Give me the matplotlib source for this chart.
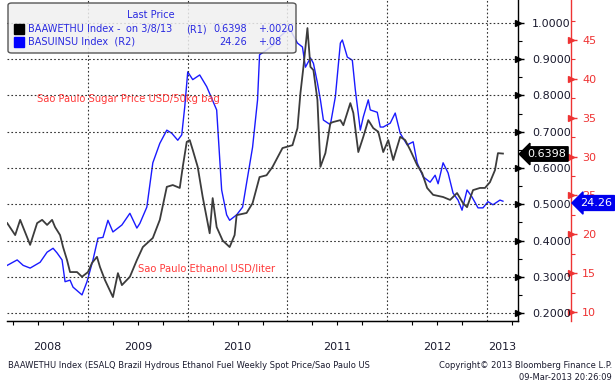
import matplotlib
matplotlib.use("Agg")
import matplotlib.pyplot as plt
import matplotlib.transforms as mtransforms
from matplotlib.patches import FancyBboxPatch, Rectangle

# ---- Data (time in decimal years) ----
eth_t = [2008.19, 2008.27, 2008.32, 2008.42, 2008.49, 2008.54, 2008.59, 2008.64,
         2008.67, 2008.72, 2008.75, 2008.79, 2008.82, 2008.89, 2008.94, 2009.00,
         2009.04, 2009.09, 2009.12, 2009.17, 2009.25, 2009.30, 2009.34, 2009.42,
         2009.49, 2009.55, 2009.65, 2009.72, 2009.79, 2009.85, 2009.92, 2009.95,
         2009.99, 2010.02, 2010.05, 2010.10, 2010.15, 2010.22, 2010.25, 2010.29,
         2010.35, 2010.42, 2010.47, 2010.49, 2010.59, 2010.65, 2010.72, 2010.79,
         2010.85, 2010.95, 2011.05, 2011.10, 2011.13, 2011.16, 2011.20, 2011.23,
         2011.26, 2011.30, 2011.33, 2011.38, 2011.43, 2011.46, 2011.53, 2011.56,
         2011.63, 2011.66, 2011.71, 2011.76, 2011.81, 2011.86, 2011.91, 2011.96,
         2012.01, 2012.06, 2012.13, 2012.18, 2012.23, 2012.30, 2012.35, 2012.40,
         2012.46, 2012.56, 2012.63, 2012.70, 2012.76, 2012.80, 2012.86, 2012.93,
         2012.98, 2013.03, 2013.08, 2013.11, 2013.16]
eth_v = [0.448, 0.415, 0.457, 0.388, 0.448, 0.457, 0.443, 0.457,
         0.437, 0.415, 0.382, 0.346, 0.313, 0.313, 0.300, 0.313,
         0.338, 0.355, 0.327, 0.291, 0.244, 0.310, 0.277, 0.300,
         0.346, 0.382, 0.407, 0.457, 0.548, 0.553, 0.545, 0.603,
         0.672, 0.677, 0.650, 0.603, 0.520, 0.420, 0.517, 0.437,
         0.400, 0.382, 0.415, 0.470, 0.476, 0.503, 0.575, 0.580,
         0.603, 0.655, 0.663, 0.710, 0.807, 0.879, 0.986, 0.879,
         0.870, 0.788, 0.603, 0.641, 0.724, 0.727, 0.732, 0.718,
         0.779, 0.752, 0.644, 0.686, 0.732, 0.710, 0.700, 0.644,
         0.677, 0.622, 0.686, 0.677, 0.650, 0.608, 0.586, 0.545,
         0.526, 0.520, 0.512, 0.531, 0.503, 0.492, 0.539, 0.545,
         0.545, 0.561, 0.594, 0.641, 0.6398]

sug_t = [2008.19, 2008.29, 2008.35, 2008.42, 2008.52, 2008.59, 2008.65, 2008.69,
         2008.74, 2008.77, 2008.82, 2008.85, 2008.94, 2008.99, 2009.05, 2009.10,
         2009.15, 2009.20, 2009.25, 2009.34, 2009.42, 2009.49, 2009.52, 2009.59,
         2009.65, 2009.72, 2009.79, 2009.84, 2009.90, 2009.94, 2009.97, 2010.00,
         2010.05, 2010.12, 2010.19, 2010.29, 2010.34, 2010.39, 2010.42, 2010.49,
         2010.55, 2010.59, 2010.65, 2010.70, 2010.72, 2010.79, 2010.89, 2010.92,
         2011.02, 2011.10, 2011.15, 2011.18, 2011.23, 2011.26, 2011.30, 2011.33,
         2011.36, 2011.43, 2011.48, 2011.53, 2011.55, 2011.60, 2011.65, 2011.68,
         2011.73, 2011.76, 2011.81, 2011.83, 2011.90, 2011.93, 2011.96, 2012.03,
         2012.08, 2012.13, 2012.20, 2012.26, 2012.30, 2012.36, 2012.43, 2012.48,
         2012.51, 2012.56, 2012.61, 2012.66, 2012.71, 2012.75, 2012.80, 2012.85,
         2012.91, 2012.96, 2013.01, 2013.06, 2013.13, 2013.16]
sug_v = [16.0, 16.7, 16.0, 15.65, 16.4, 17.7, 18.2, 17.6,
         16.7, 13.9, 14.1, 13.2, 12.2, 13.9, 16.7, 19.5,
         19.6, 21.8, 20.3, 21.2, 22.7, 20.8, 21.4, 23.5,
         29.2, 31.7, 33.4, 33.0, 32.1, 32.8, 36.4, 40.9,
         39.9, 40.5, 39.0, 36.0, 25.7, 22.5, 21.8, 22.5,
         23.5, 26.6, 31.2, 37.3, 43.1, 43.7, 44.7, 45.4,
         46.5, 44.6, 44.1, 41.5, 42.7, 42.0, 39.5, 37.3,
         34.7, 34.1, 37.7, 44.6, 45.0, 42.8, 42.4, 38.6,
         33.4, 35.1, 37.3, 36.0, 35.7, 33.8, 33.8, 34.3,
         35.6, 33.0, 31.5, 31.9, 29.2, 27.4, 26.7, 27.6,
         26.5, 29.2, 27.9, 25.3, 24.4, 23.1, 25.7, 24.8,
         23.4, 23.4, 24.2, 23.8, 24.4, 24.26]

years = [2008, 2009, 2010, 2011, 2012, 2013]
eth_ticks = [0.2, 0.3, 0.4, 0.5, 0.6, 0.7, 0.8, 0.9, 1.0]
sug_ticks = [10, 15, 20, 25, 30, 35, 40, 45]
eth_last, sug_last = "0.6398", "24.26"

# ---- colors ----
black_line = "#3c3c3c"
blue = "#1a1aff"
red = "#ee3333"
txt = "#1a1a2e"

fig = plt.figure(figsize=(6.15, 3.84), dpi=100)
ax = fig.add_axes([7 / 615, 63 / 384, 511 / 615, 321 / 384])
ax2 = ax.twinx()

x0, x1 = 2008.188, 2013.311
ax.set_xlim(x0, x1)
ax.set_ylim(0.178, 1.0634)
ax2.set_ylim(8.842, 50.147)

# grid
for v in eth_ticks:
    ax.axhline(v, color="#333333", lw=0.8, ls=(0, (1.5, 2)), zorder=1)
for y in years[1:]:
    ax.axvline(y, color="#333333", lw=0.8, ls=(0, (1.5, 2)), zorder=1)

# lines
ax.plot(eth_t, eth_v, color=black_line, lw=1.3, zorder=3)
ax2.plot(sug_t, sug_v, color=blue, lw=1.0, zorder=3)
ax.set_zorder(2)
ax.patch.set_visible(False)
ax2.set_zorder(1)

# ---- spines ----
for s in ["top", "left"]:
    ax.spines[s].set_visible(False)
    ax2.spines[s].set_visible(False)
ax.spines["bottom"].set_linewidth(1.0)
ax.spines["right"].set_linewidth(1.0)
ax2.spines["right"].set_position(("axes", 564 / 511))
ax2.spines["right"].set_color(red)
ax2.spines["right"].set_linewidth(1.0)

# ---- left (primary) axis on the right side ----
ax.yaxis.tick_right()
ax.set_yticks(eth_ticks)
ax.set_yticklabels([f"{v:.4f}" for v in eth_ticks])
ax.set_yticks([v + 0.05 for v in eth_ticks[:-1]], minor=True)
ax.tick_params(axis="y", which="major", length=4, width=1.0, pad=6,
               labelsize=8, labelcolor=txt, color="black")
ax.tick_params(axis="y", which="minor", length=3, width=0.8, color="black")
trans = mtransforms.blended_transform_factory(ax.transAxes, ax.transData)
ax.plot([1.0] * len(eth_ticks), eth_ticks, ls="none", marker=">", ms=4,
        color="black", transform=trans, clip_on=False, zorder=5)

ax2.set_yticks(sug_ticks)
ax2.set_yticklabels([str(v) for v in sug_ticks])
ax2.set_yticks([v + 2.5 for v in sug_ticks] + [7.5], minor=True)
ax2.set_ylim(8.842, 50.147)
ax2.tick_params(axis="y", which="major", length=4, width=1.0, pad=4,
                labelsize=8, labelcolor=red, color=red)
ax2.tick_params(axis="y", which="minor", length=3, width=0.8, color=red)
trans2 = mtransforms.blended_transform_factory(ax2.transAxes, ax2.transData)
ax2.plot([564 / 511] * len(sug_ticks), sug_ticks, ls="none", marker=">", ms=4,
         color=red, transform=trans2, clip_on=False, zorder=5)

# ---- x axis ----
ax.set_xticks(years[1:])
ax.set_xticklabels([])
quarters = [y + q for y in range(2008, 2014) for q in (0.25, 0.5, 0.75)]
ax.set_xticks([q for q in quarters if x0 < q < x1], minor=True)
ax.tick_params(axis="x", which="major", direction="out", length=32, width=0.8,
               color="#8a8a8a")
ax.tick_params(axis="x", which="minor", direction="out", length=3, width=0.8,
               color="black")
ax2.set_xticks([])
xtr = mtransforms.blended_transform_factory(ax.transData, fig.transFigure)
for y in years:
    lo, hi = max(y, x0), min(y + 1, x1)
    ax.text((lo + hi) / 2, 1 - 347 / 384, str(y), transform=xtr, ha="center",
            va="center", fontsize=8, color=txt, clip_on=False)

# ---- annotations ----
fx = lambda px: px / 615
fy = lambda py: 1 - py / 384
fig.text(fx(37), fy(99), "Sao Paulo Sugar Price USD/50kg bag", color="#ff3b3b",
         fontsize=7.2, va="center", ha="left")
fig.text(fx(138), fy(269), "Sao Paulo Ethanol USD/liter", color="#ff3b3b",
         fontsize=7.2, va="center", ha="left")

# last value boxes
fig.text(fx(527), fy(154), eth_last, color="white", fontsize=8, va="center",
         ha="left", zorder=20,
         bbox=dict(boxstyle="larrow,pad=0.2", fc="black", ec="black"))
fig.text(fx(580), fy(203), sug_last, color="white", fontsize=8, va="center",
         ha="left", zorder=20,
         bbox=dict(boxstyle="larrow,pad=0.22", fc="#0000ee", ec="#0000ee"))

# ---- legend box ----
box = FancyBboxPatch((fx(8), fy(53)), fx(288), 50 / 384, transform=fig.transFigure,
                     boxstyle="round,pad=0,rounding_size=0.006", fc="#f0f0f0",
                     ec="#3a3a3a", lw=1.0, alpha=0.85, zorder=10)
fig.patches.append(box)
lc = "#2a2ae0"
lfs = 7
fig.text(fx(151), fy(15), "Last Price", color=lc, fontsize=lfs, ha="center",
         va="center", zorder=11)
fig.patches.append(Rectangle((fx(14), fy(34)), fx(10), 10 / 384, transform=fig.transFigure,
                             fc="black", ec="black", zorder=11))
fig.patches.append(Rectangle((fx(14), fy(47)), fx(10), 10 / 384, transform=fig.transFigure,
                             fc="#0000ff", ec="#0000ff", zorder=11))
row1, row2 = fy(29), fy(42)
fig.text(fx(28), row1, "BAAWETHU Index -", color=lc, fontsize=lfs, va="center", zorder=11)
fig.text(fx(126), row1, "on 3/8/13", color=lc, fontsize=lfs, va="center", zorder=11)
fig.text(fx(186), row1, "(R1)", color=lc, fontsize=lfs, va="center", zorder=11)
fig.text(fx(247), row1, eth_last, color=lc, fontsize=lfs, va="center", ha="right", zorder=11)
fig.text(fx(258), row1, "+.0020", color=lc, fontsize=lfs, va="center", zorder=11)
fig.text(fx(28), row2, "BASUINSU Index  (R2)", color=lc, fontsize=lfs, va="center", zorder=11)
fig.text(fx(247), row2, sug_last, color=lc, fontsize=lfs, va="center", ha="right", zorder=11)
fig.text(fx(258), row2, "+.08", color=lc, fontsize=lfs, va="center", zorder=11)

# ---- footer ----
fig.text(fx(8), fy(366), "BAAWETHU Index (ESALQ Brazil Hydrous Ethanol Fuel Weekly Spot Price/Sao Paulo US",
         fontsize=6, color=txt, va="center", ha="left")
fig.text(fx(612), fy(366), "Copyright\u00a9 2013 Bloomberg Finance L.P.", fontsize=6,
         color=txt, va="center", ha="right")
fig.text(fx(612), fy(378), "09-Mar-2013 20:26:09", fontsize=6, color=txt,
         va="center", ha="right")

fig.savefig("out.png", dpi=100)
